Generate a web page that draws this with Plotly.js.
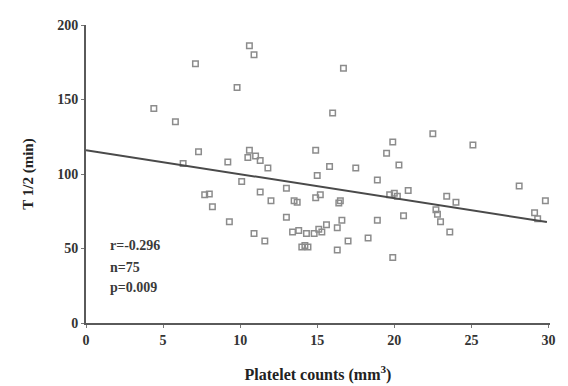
<!DOCTYPE html>
<html>
<head>
<meta charset="utf-8">
<script src="https://cdn.plot.ly/plotly-3.0.1.min.js"></script>
<style>html,body{margin:0;padding:0;background:#fff;}#chart{width:568px;height:386px;}</style>
</head>
<body>
<div id="chart"></div>
<script>
// Platelet counts (x) and T 1/2 in minutes (y)
var plateletCounts = [4.4, 5.8, 7.1, 9.8, 10.6, 10.9, 16.7, 16.0, 7.3, 6.3,
  9.2, 10.6, 10.5, 11.3, 11.8, 10.1, 7.7, 8.2, 9.3, 14.9,
  15.8, 17.5, 18.9, 15.0, 11.3, 12.0, 13.0, 13.7, 14.9, 15.2,
  16.4, 13.0, 16.6, 13.4, 13.8, 14.3, 14.8, 15.3, 15.6, 16.3,
  17.0, 18.3, 18.9, 10.9, 11.6, 14.0, 14.4, 16.3, 19.9, 19.9,
  19.5, 22.5, 25.1, 20.3, 20.9, 19.7, 20.2, 23.4, 24.0, 22.7,
  23.0, 23.6, 20.6, 28.1, 29.8, 29.1, 29.3, 22.8, 13.5, 15.1,
  11.0, 16.5, 20.0, 8.0, 14.2];
var halfLife = [144, 135, 174, 158, 186, 180, 171, 141, 115, 107,
  108, 116, 111, 109, 104, 95, 86, 78, 68, 116,
  105, 104, 96, 99, 88, 82, 90.5, 81, 84, 86,
  80.5, 71, 69, 61, 62, 60, 60, 61, 66, 64,
  55, 57, 69, 60, 55, 51, 51, 49, 44, 121.5,
  114, 127, 119.5, 106, 89, 86, 85, 85, 81, 76,
  68, 61, 72, 92, 82, 74, 70, 73, 82, 63,
  112, 82, 87, 86.5, 52];
// Regression line end points
var fitX = [0, 29.9];
var fitY = [116, 67.8];
// Tick values
var xTicks = [0, 5, 10, 15, 20, 25, 30];
var yTicks = [0, 50, 100, 150, 200];
var statsLines = ['r=-0.296', 'n=75', 'p=0.009'];
var statsY = [52, 37.5, 24];

var serif = 'Liberation Serif, Times New Roman, serif';

var traces = [
  {
    x: plateletCounts, y: halfLife, type: 'scatter', mode: 'markers',
    marker: {symbol: 'square-open', size: 5.5, color: '#8c8c8c', line: {width: 1.5, color: '#8c8c8c'}},
    hoverinfo: 'x+y', showlegend: false
  },
  {
    x: fitX, y: fitY, type: 'scatter', mode: 'lines',
    line: {color: '#4a4a4a', width: 2}, showlegend: false, hoverinfo: 'skip'
  }
];

var annotations = statsLines.map(function(t, i) {
  return {x: 1.4, y: statsY[i], xref: 'x', yref: 'y', text: t, showarrow: false,
    xanchor: 'left', yanchor: 'middle',
    font: {family: serif, size: 14, color: '#3a3a3a', weight: 'bold'}};
});

var layout = {
  width: 568, height: 386,
  margin: {l: 86, r: 18, t: 25, b: 63},
  paper_bgcolor: '#ffffff', plot_bgcolor: '#ffffff',
  showlegend: false,
  xaxis: {
    range: [0, 30.1], tickvals: xTicks, ticktext: xTicks.map(String),
    showgrid: false, zeroline: false, showline: true, linewidth: 2, linecolor: '#5a5a5a',
    ticks: 'outside', ticklen: 3, tickwidth: 1, tickcolor: '#777',
    tickfont: {family: serif, size: 14, color: '#333', weight: 'bold'},
    title: {text: 'Platelet counts (mm<sup>3</sup>)', standoff: 22,
      font: {family: serif, size: 16, color: '#222', weight: 'bold'}}
  },
  yaxis: {
    range: [0, 200], tickvals: yTicks, ticktext: yTicks.map(String),
    showgrid: false, zeroline: false, showline: true, linewidth: 2, linecolor: '#5a5a5a',
    ticks: 'outside', ticklen: 3, tickwidth: 1, tickcolor: '#777',
    tickfont: {family: serif, size: 14, color: '#333', weight: 'bold'},
    title: {text: 'T 1/2 (min)', standoff: 20,
      font: {family: serif, size: 15, color: '#222', weight: 'bold'}}
  },
  annotations: annotations
};

Plotly.newPlot('chart', traces, layout, {staticPlot: true, displayModeBar: false});
</script>
</body>
</html>
